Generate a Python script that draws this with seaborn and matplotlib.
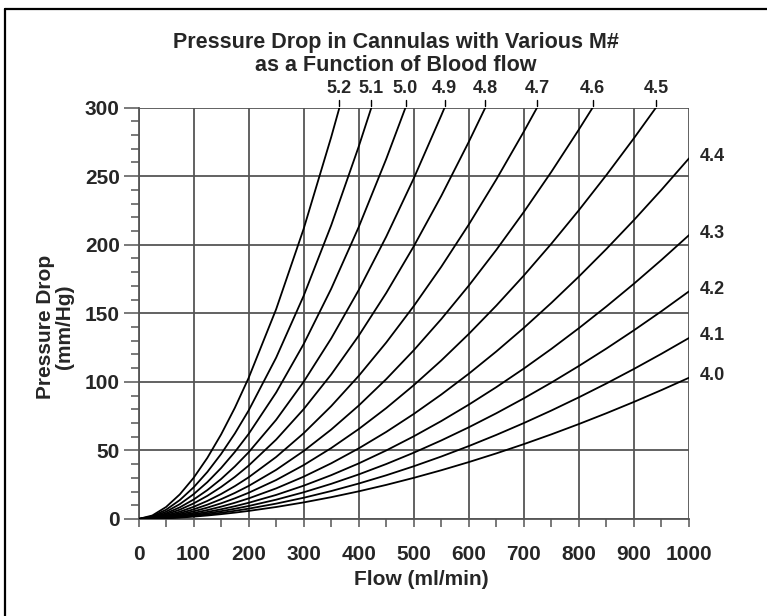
import matplotlib
matplotlib.use("Agg")
import matplotlib.pyplot as plt
from matplotlib.lines import Line2D
from matplotlib.ticker import MultipleLocator
import seaborn as sns
import pandas as pd

# ---- data ----
M_NUMBERS = ["4.0", "4.1", "4.2", "4.3", "4.4", "4.5", "4.6", "4.7", "4.8", "4.9", "5.0", "5.1", "5.2"]
FLOW_GRID = [0, 25, 50, 75, 100, 125, 150, 175, 200, 250, 300, 350, 400, 450, 500,
             550, 600, 650, 700, 750, 800, 850, 900, 950, 1000]
END_FLOW = [1000, 1000, 1000, 1000, 1000, 940, 825, 724, 630, 556, 485, 423, 365]

P_40 = [0, 0.15, 0.50, 1.02, 1.71, 2.54, 3.52, 4.63, 5.87, 8.73, 12.08, 15.90, 20.16, 24.86, 30.0, 35.54, 41.49, 47.84, 54.59, 61.72, 69.24, 77.13, 85.38, 94.01, 103.0]
P_41 = [0, 0.19, 0.64, 1.31, 2.19, 3.26, 4.51, 5.93, 7.52, 11.19, 15.48, 20.37, 25.84, 31.86, 38.44, 45.55, 53.17, 61.32, 69.96, 79.10, 88.74, 98.84, 109.42, 120.48, 132.0]
P_42 = [0, 0.23, 0.80, 1.65, 2.76, 4.10, 5.67, 7.46, 9.46, 14.07, 19.47, 25.62, 32.49, 40.07, 48.34, 57.28, 66.87, 77.11, 87.98, 99.47, 111.60, 124.30, 137.61, 151.51, 166.0]
P_43 = [0, 0.29, 1.00, 2.06, 3.44, 5.11, 7.07, 9.30, 11.80, 17.55, 24.28, 31.95, 40.52, 49.97, 60.28, 71.42, 83.39, 96.15, 109.71, 124.04, 139.16, 155.00, 171.59, 188.94, 207.0]
P_44 = [0, 0.37, 1.27, 2.62, 4.37, 6.49, 8.98, 11.82, 14.99, 22.30, 30.85, 40.59, 51.48, 63.49, 76.59, 90.75, 105.94, 122.17, 139.39, 157.60, 176.81, 196.94, 218.01, 240.05, 263.0]
P_45 = [0, 0.47, 1.62, 3.33, 5.56, 8.27, 11.44, 15.05, 19.10, 28.40, 39.29, 51.70, 65.57, 80.87, 97.56, 115.59, 134.95, 155.61, 177.55, 200.75, 225.21, 250.85, 277.70, 300.0]
P_46 = [0, 0.60, 2.04, 4.20, 7.01, 10.43, 14.43, 18.99, 24.08, 35.82, 49.56, 65.21, 82.70, 101.99, 123.04, 145.78, 170.20, 196.26, 223.93, 253.18, 284.03, 300.0]
P_47 = [0, 0.75, 2.58, 5.30, 8.85, 13.16, 18.21, 23.96, 30.39, 45.20, 62.53, 82.28, 104.35, 128.69, 155.25, 183.94, 214.75, 247.63, 282.54, 300.0]
P_48 = [0, 0.96, 3.30, 6.79, 11.33, 16.86, 23.32, 30.68, 38.92, 57.89, 80.09, 105.38, 133.65, 164.83, 198.85, 235.59, 275.05, 300.0]
P_49 = [0, 1.20, 4.12, 8.48, 14.16, 21.06, 29.13, 38.33, 48.62, 72.31, 100.04, 131.64, 166.95, 205.89, 248.38, 294.29, 300.0]
P_50 = [0, 1.53, 5.26, 10.82, 18.05, 26.85, 37.15, 48.88, 61.99, 92.21, 127.57, 167.86, 212.89, 262.55, 300.0]
P_51 = [0, 1.95, 6.71, 13.80, 23.03, 34.26, 47.40, 62.35, 79.09, 117.63, 162.74, 214.14, 271.59, 300.0]
P_52 = [0, 2.54, 8.72, 17.94, 29.95, 44.55, 61.63, 81.08, 102.84, 152.96, 211.62, 278.46, 300.0]

PRESSURES = [P_40, P_41, P_42, P_43, P_44, P_45, P_46, P_47, P_48, P_49, P_50, P_51, P_52]

X_TICKS = [0, 100, 200, 300, 400, 500, 600, 700, 800, 900, 1000]
Y_TICKS = [0, 50, 100, 150, 200, 250, 300]
TITLE = "Pressure Drop in Cannulas with Various M#\nas a Function of Blood flow"
X_LABEL = "Flow (ml/min)"
Y_LABEL = "Pressure Drop\n(mm/Hg)"

# ---- build long table ----
rows = []
for m, end, pres in zip(M_NUMBERS, END_FLOW, PRESSURES):
    flows = [f for f in FLOW_GRID if f < end] + [end]
    for f, p in zip(flows, pres):
        rows.append({"flow": f, "pressure": p, "m": m})
df = pd.DataFrame(rows)

# ---- style ----
sns.set_theme(style="white")
plt.rcParams["font.family"] = ["Liberation Sans", "DejaVu Sans"]
plt.rcParams["font.weight"] = "bold"
GRID_C = "#555555"

fig = plt.figure(figsize=(7.67, 6.16), dpi=100)
ax = fig.add_axes([0.1806, 0.1575, 0.8983 - 0.1806, 0.8253 - 0.1575])

sns.lineplot(data=df, x="flow", y="pressure", hue="m", palette=["black"] * len(M_NUMBERS),
             legend=False, estimator=None, sort=False, linewidth=1.3, ax=ax, zorder=3)

ax.set_xlim(0, 1000)
ax.set_ylim(0, 300)
ax.set_xticks(X_TICKS)
ax.set_yticks(Y_TICKS)
ax.xaxis.set_minor_locator(MultipleLocator(50))
ax.yaxis.set_minor_locator(MultipleLocator(10))
ax.grid(True, which="major", color=GRID_C, linewidth=1.3)
for s in ax.spines.values():
    s.set_visible(False)
for side in ("left", "bottom"):
    ax.spines[side].set_visible(True)
    ax.spines[side].set_color(GRID_C)
    ax.spines[side].set_linewidth(1.3)

ax.tick_params(axis="x", which="both", direction="out", length=6, width=1.1, color=GRID_C,
               bottom=True, labelsize=15, pad=13)
ax.tick_params(axis="y", which="major", direction="out", length=10.5, width=1.1, color=GRID_C,
               left=True, labelsize=15, pad=3)
ax.tick_params(axis="y", which="minor", direction="out", length=5.8, width=1.1, color=GRID_C, left=True)
for lab in ax.get_xticklabels() + ax.get_yticklabels():
    lab.set_fontweight("bold")

ax.set_xlabel(X_LABEL, fontsize=15, fontweight="bold")
ax.xaxis.set_label_coords(0.513, -0.124)
ax.set_ylabel(Y_LABEL, fontsize=15, fontweight="bold", linespacing=1.0)
ax.yaxis.set_label_coords(-0.118, 0.468)

# labels of the curves
for m, end, pres in zip(M_NUMBERS, END_FLOW, PRESSURES):
    if end < 1000:
        ax.plot([end, end], [1.004, 1.018], transform=ax.get_xaxis_transform(),
                color="black", linewidth=1.0, clip_on=False)
        ax.text(end, 1.026, m, transform=ax.get_xaxis_transform(), ha="center", va="bottom",
                fontsize=13, fontweight="bold")
    else:
        ax.text(1020, pres[-1] + 1.5, m, ha="left", va="center", fontsize=13, fontweight="bold",
                clip_on=False)

fig.text(396 / 767, 1 - 54 / 616, TITLE, ha="center", va="center", fontsize=15.5,
         fontweight="bold", linespacing=1.1)

# partial frame around the figure
fig.add_artist(Line2D([5 / 767, 5 / 767], [0, 1 - 9 / 616], transform=fig.transFigure,
                      color="black", linewidth=1.6))
fig.add_artist(Line2D([5 / 767, 1], [1 - 9 / 616, 1 - 9 / 616], transform=fig.transFigure,
                      color="black", linewidth=1.6))

fig.savefig("out.png", dpi=100)
